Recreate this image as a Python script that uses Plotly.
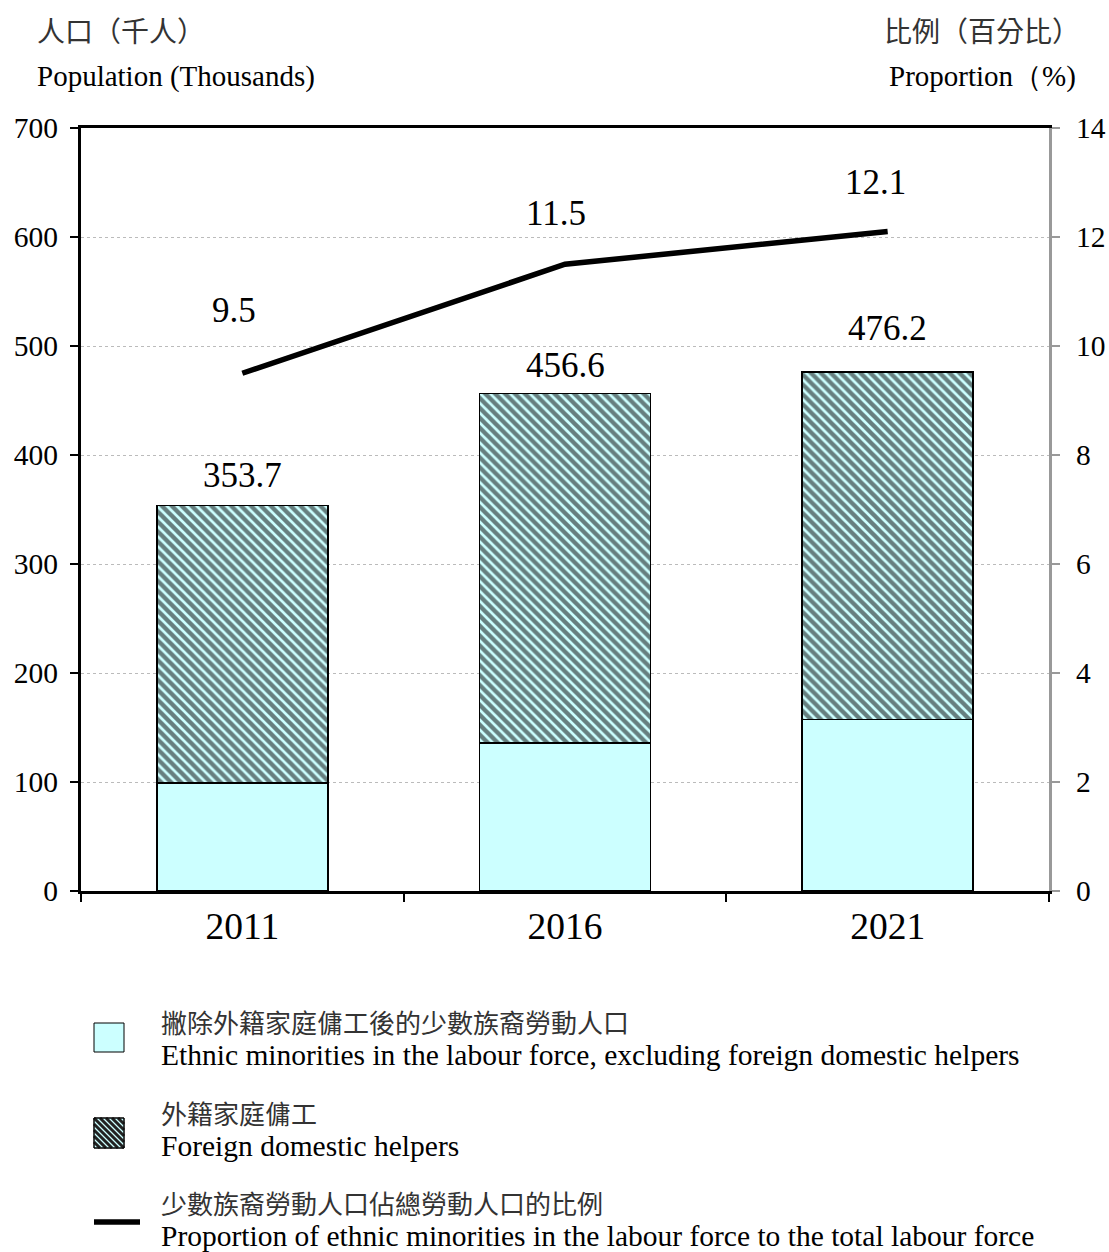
import plotly.graph_objects as go

# data
years = ["2011", "2016", "2021"]
em_excl_fdh = [99.0, 136.0, 157.5]      # ethnic minorities excl. FDH (thousands)
fdh = [254.7, 320.6, 318.7]             # foreign domestic helpers (thousands)
proportion = [9.5, 11.5, 12.1]          # % of total labour force
left_ticks = [0, 100, 200, 300, 400, 500, 600, 700]
right_ticks = [0, 2, 4, 6, 8, 10, 12, 14]

SERIF = "Liberation Serif, Times New Roman, serif"
CJK = "Noto Sans CJK TC, sans-serif"
CYAN = "#ccffff"

# plot area in pixels (for placing loose text / legend)
L, R, T, B = 81, 1049, 128, 891


def px(x):
    return (x - L) / (R - L)


def py(y):
    return (B - y) / (B - T)


fig = go.Figure()
fig.add_trace(go.Bar(
    x=years, y=em_excl_fdh, width=0.53,
    marker=dict(color=CYAN, line=dict(color="black", width=1.5)),
    showlegend=False,
))
fig.add_trace(go.Bar(
    x=years, y=fdh, width=0.53,
    marker=dict(color=CYAN, line=dict(color="black", width=1.5),
                pattern=dict(shape="\\", fgcolor="#000000", bgcolor=CYAN,
                             size=7, solidity=0.62)),
    showlegend=False,
))
fig.add_trace(go.Scatter(
    x=years, y=proportion, yaxis="y2", mode="lines",
    line=dict(color="black", width=5.5), showlegend=False,
))

# value labels
totals = [round(a + b, 1) for a, b in zip(em_excl_fdh, fdh)]
bar_shift = [30, 28, 43]
for i, (t, s) in enumerate(zip(totals, bar_shift)):
    fig.add_annotation(x=i, y=t, xref="x", yref="y", text=f"{t:.1f}",
                       showarrow=False, yshift=s,
                       font=dict(family=SERIF, size=35, color="black"))
line_shift = [(-8, 63), (-9, 51), (-12, 49)]
for i, (p, (dx, dy)) in enumerate(zip(proportion, line_shift)):
    fig.add_annotation(x=i, y=p, xref="x", yref="y2", text=f"{p:.1f}",
                       showarrow=False, xshift=dx, yshift=dy,
                       font=dict(family=SERIF, size=35, color="black"))

# axis titles
fig.add_annotation(x=px(35), y=py(30), xref="paper", yref="paper", text="人口（千人）",
                   xanchor="left", yanchor="middle", showarrow=False,
                   font=dict(family=CJK, size=28, color="#333"))
fig.add_annotation(x=px(35), y=py(77), xref="paper", yref="paper", text="Population (Thousands)",
                   xanchor="left", yanchor="middle", showarrow=False,
                   font=dict(family=SERIF, size=29, color="black"))
fig.add_annotation(x=px(1082), y=py(30), xref="paper", yref="paper", text="比例（百分比）",
                   xanchor="right", yanchor="middle", showarrow=False,
                   font=dict(family=CJK, size=28, color="#333"))
fig.add_annotation(x=px(1078), y=py(77), xref="paper", yref="paper", text="Proportion（%)",
                   xanchor="right", yanchor="middle", showarrow=False,
                   font=dict(family=SERIF, size=29, color="black"))

# legend (drawn by hand)
legend_items = [
    ("撇除外籍家庭傭工後的少數族裔勞動人口",
     "Ethnic minorities in the labour force, excluding foreign domestic helpers", 1021),
    ("外籍家庭傭工", "Foreign domestic helpers", 1112),
    ("少數族裔勞動人口佔總勞動人口的比例",
     "Proportion of ethnic minorities in the labour force to the total labour force", 1202),
]
for zh, en, yy in legend_items:
    fig.add_annotation(x=px(159), y=py(yy), xref="paper", yref="paper", text=zh,
                       xanchor="left", yanchor="middle", showarrow=False,
                       font=dict(family=CJK, size=26, color="#333"))
    fig.add_annotation(x=px(159), y=py(yy + 34), xref="paper", yref="paper", text=en,
                       xanchor="left", yanchor="middle", showarrow=False,
                       font=dict(family=SERIF, size=29.5, color="black"))

shapes = []
# plain cyan box
shapes.append(dict(type="rect", xref="paper", yref="paper",
                   x0=px(94), x1=px(124), y0=py(1052), y1=py(1023),
                   fillcolor=CYAN, line=dict(color="black", width=1)))
# hatched box
hx0, hx1, hy0, hy1 = 94, 124, 1118, 1148
shapes.append(dict(type="rect", xref="paper", yref="paper",
                   x0=px(hx0), x1=px(hx1), y0=py(hy1), y1=py(hy0),
                   fillcolor=CYAN, line=dict(color="black", width=1)))
seg = []
w = hx1 - hx0
for c in range(-w, w + 1, 6):
    # screen line from top-left to bottom-right: y - hy0 = (x - hx0) - c
    xa, xb = max(0, c), min(w, w + c)
    if xb - xa < 1:
        continue
    x_a, y_a = hx0 + xa, hy0 + xa - c
    x_b, y_b = hx0 + xb, hy0 + xb - c
    seg.append(f"M{px(x_a)},{py(y_a)} L{px(x_b)},{py(y_b)}")
shapes.append(dict(type="path", xref="paper", yref="paper", path=" ".join(seg),
                   line=dict(color="#222222", width=3)))
shapes.append(dict(type="rect", xref="paper", yref="paper",
                   x0=px(hx0), x1=px(hx1), y0=py(hy1), y1=py(hy0),
                   fillcolor="rgba(0,0,0,0)", line=dict(color="black", width=1)))
# line sample
shapes.append(dict(type="line", xref="paper", yref="paper",
                   x0=px(94), x1=px(140), y0=py(1222), y1=py(1222),
                   line=dict(color="black", width=5.5)))

fig.update_layout(
    width=1109, height=1252,
    margin=dict(l=L, r=1109 - R, t=T, b=1252 - B),
    paper_bgcolor="white", plot_bgcolor="white",
    barmode="stack", bargap=0.47,
    shapes=shapes,
    font=dict(family=SERIF, color="black"),
    xaxis=dict(type="category", range=[-0.5, 2.5], tickson="boundaries",
               ticks="outside", ticklen=8, tickwidth=2, tickcolor="black",
               showline=True, linecolor="black", linewidth=3, mirror=True,
               tickfont=dict(family=SERIF, size=37.5), showgrid=False,
               automargin=False),
    yaxis=dict(range=[0, 700], tickvals=left_ticks, ticks="outside", ticklen=8,
               tickwidth=2, tickcolor="black", showline=True, linecolor="black",
               linewidth=3, showgrid=True, gridcolor="#bbbbbb", griddash="dot",
               gridwidth=1, zeroline=False, tickfont=dict(family=SERIF, size=29.5),
               ticklabelstandoff=6, automargin=False),
    yaxis2=dict(range=[0, 14], tickvals=right_ticks, overlaying="y", side="right",
                ticks="outside", ticklen=8, tickwidth=2, tickcolor="#999999",
                showline=True, linecolor="#999999", linewidth=3, showgrid=False,
                zeroline=False, tickfont=dict(family=SERIF, size=29.5),
                ticklabelstandoff=10, automargin=False),
)

fig.write_html(
    "out.html",
    config={"displayModeBar": False},
    post_script="document.body.style.margin='0';document.body.style.overflow='hidden';",
)
